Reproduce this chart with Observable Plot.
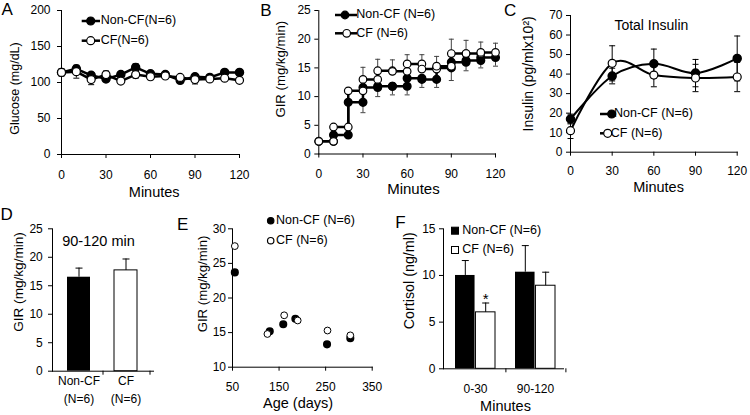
<!DOCTYPE html>
<html>
<head>
<meta charset="utf-8">
<script src="https://cdn.jsdelivr.net/npm/d3@7"></script>
<script src="https://cdn.jsdelivr.net/npm/@observablehq/plot@0.6"></script>
<style>
  html,body{margin:0;padding:0;background:#fff;}
  #fig{position:relative;width:750px;height:415px;overflow:hidden;background:#fff;font-family:"Liberation Sans",Arial,sans-serif;color:#000;}
  .panel{position:absolute;}
  .panel svg{overflow:visible;}
  .letter{position:absolute;font-size:17px;line-height:1;}
  .legtext{position:absolute;font-size:12.5px;line-height:1;white-space:nowrap;}
</style>
</head>
<body>
<div id="fig"></div>
<script>
// ---------------- DATA ----------------
// shared tick labels
const tickMinutes = [0, 30, 60, 90, 120];
const glucoseTicks = [0, 50, 100, 150, 200];
const girTicks = [0, 5, 10, 15, 20, 25];
const insulinTicks = [0, 10, 20, 30, 40, 50, 60, 70];
const ageTicks = [50, 150, 250, 350];
const girAgeTicks = [10, 15, 20, 25, 30];
const cortisolTicks = [0, 5, 10, 15];

// A: glucose (mg/dL)
const minutesA = [0, 10, 20, 30, 40, 50, 60, 70, 80, 90, 100, 110, 120];
const glucoseNonCF    = [114, 119, 110, 105, 111, 121, 112, 111, 103, 108, 107, 114, 114];
const glucoseNonCFErr = [4, 4, 3, 3, 3, 5, 3, 2, 2, 2, 2, 2, 2];
const glucoseCF       = [114, 115, 104, 111, 102, 111, 108, 109, 107, 104, 105, 106, 103];
const glucoseCFErr    = [5, 9, 7, 5, 3, 5, 4, 2, 2, 6, 2, 2, 2];

// B: GIR per 10-min infusion period
const girStart = [0, 10, 20, 30, 40, 50, 60, 70, 80, 90, 100, 110];
const girEnd   = [10, 20, 30, 40, 50, 60, 70, 80, 90, 100, 110, 120];
const girNonCF    = [2.2, 3.3, 9.0, 11.6, 11.8, 11.8, 13.2, 13.0, 15.0, 16.0, 16.3, 16.8];
const girNonCFErr = [0.3, 0.4, 1.8, 1.6, 1.5, 1.5, 1.6, 1.4, 2.2, 1.5, 1.3, 1.5];
const girCF       = [2.2, 4.7, 11.0, 13.0, 14.5, 14.4, 15.7, 14.8, 15.3, 17.5, 17.5, 17.7];
const girCFErr    = [0.3, 0.5, 4.1, 3.5, 1.9, 2.9, 1.6, 2.2, 4.7, 2.3, 2.0, 1.6];

// C: total insulin
const insulinMinutes = [0, 30, 60, 90, 120];
const insulinNonCF    = [17, 39, 45.3, 40.5, 48];
const insulinNonCFErr = [2.5, 4, 7.5, 7, 11.5];
const insulinCF       = [11, 45.5, 39.5, 38, 38.5];
const insulinCFErr    = [4, 9, 6, 7, 7.5];

// D: GIR 90-120 min
const groupsD = ["Non-CF", "CF"];
const groupNotes = ["(N=6)", "(N=6)"];
const girD = [16.5, 17.7];
const girDErr = [1.6, 2.0];

// E: GIR vs age
const ageNonCF = [55, 130, 159, 185, 253, 303];
const girAgeNonCF = [23.7, 15.2, 16.2, 17.0, 13.3, 14.2];
const ageCF = [55, 125, 161, 190, 254, 303];
const girAgeCF = [27.5, 14.8, 17.5, 16.75, 15.3, 14.6];

// F: cortisol
const cortisolPeriods = ["0-30", "90-120"];
const cortisolNonCF = [10.0, 10.35];
const cortisolNonCFErr = [1.6, 2.85];
const cortisolCF = [6.05, 8.9];
const cortisolCFErr = [1.0, 1.45];
const cortisolCFSig = ["*", ""];

// legend / panel texts
const legendLabelsA = ["Non-CF(N=6)", "CF(N=6)"];
const legendLabelsB = ["Non-CF (N=6)", "CF (N=6)"];
const legendLabelsC = ["Non-CF (N=6)", "CF (N=6)"];
const legendLabelsE = ["Non-CF (N=6)", "CF (N=6)"];
const legendLabelsF = ["Non-CF (N=6)", "CF (N=6)"];
const panelLetters = ["A", "B", "C", "D", "E", "F"];

// ---------------- HELPERS ----------------
const FONT = '"Liberation Sans", Arial, Helvetica, sans-serif';
const baseStyle = {fontFamily: FONT, fontSize: "12px", color: "#000", background: "transparent", overflow: "visible"};
const cap = {draw(ctx, size) { const w = Math.sqrt(size / Math.PI); ctx.moveTo(-w, 0); ctx.lineTo(w, 0); }};
const fig = document.getElementById("fig");
function place(svg, left, top) {
  const d = document.createElement("div");
  d.className = "panel"; d.style.left = left + "px"; d.style.top = top + "px";
  d.appendChild(svg); fig.appendChild(d);
}
// mode: "both" | "up" | "down"
function errBars(rows, {x, y, lo, hi, mode = "both", r = 2.5, stroke = "#000", dx = 0}) {
  const y1 = mode === "up" ? y : lo, y2 = mode === "down" ? y : hi;
  const m = [Plot.ruleX(rows, {x, y1, y2, stroke, strokeWidth: 1, dx})];
  if (mode !== "down") m.push(Plot.dot(rows, {x, y: hi, symbol: cap, r, stroke, fill: "none", strokeWidth: 1, dx}));
  if (mode !== "up") m.push(Plot.dot(rows, {x, y: lo, symbol: cap, r, stroke, fill: "none", strokeWidth: 1, dx}));
  return m;
}
function yTitle(t, {dx, dy = 0, size = 13}) {
  return Plot.text([t], {text: d => d, frameAnchor: "left", textAnchor: "middle", rotate: -90, lineAnchor: "top", dx, dy, fontSize: size, fill: "#000"});
}
function xTitle(t, {dx = 0, dy, size = 14.5}) {
  return Plot.text([t], {text: d => d, frameAnchor: "bottom", textAnchor: "middle", lineAnchor: "bottom", dx, dy, fontSize: size, fill: "#000"});
}
const axisLines = () => [Plot.frame({anchor: "left", stroke: "#000"}), Plot.frame({anchor: "bottom", stroke: "#000"})];

// ---------------- PANEL A ----------------
const rowsA = (v, e) => minutesA.map((t, i) => ({t, v: v[i], lo: v[i] - e[i], hi: v[i] + e[i]}));
const aN = rowsA(glucoseNonCF, glucoseNonCFErr), aC = rowsA(glucoseCF, glucoseCFErr);
place(Plot.plot({
  width: 250, height: 205, marginLeft: 61, marginRight: 11, marginTop: 10, marginBottom: 51,
  style: baseStyle, x: {domain: [0, 120]}, y: {domain: [0, 200]},
  marks: [
    Plot.axisX({ticks: tickMinutes, tickSize: 4, tickPadding: 12, label: null}),
    Plot.axisY({ticks: glucoseTicks, tickSize: 4, tickPadding: 7, label: null}),
    ...axisLines(),
    ...errBars(aN, {x: "t", y: "v", lo: "lo", hi: "hi", r: 3}),
    ...errBars(aC, {x: "t", y: "v", lo: "lo", hi: "hi", r: 3}),
    Plot.line(aN, {x: "t", y: "v", stroke: "#000", strokeWidth: 2.5}),
    Plot.dot(aN, {x: "t", y: "v", r: 4, fill: "#000", stroke: "#000"}),
    Plot.line(aC, {x: "t", y: "v", stroke: "#000", strokeWidth: 2.5}),
    Plot.dot(aC, {x: "t", y: "v", r: 4, fill: "#fff", stroke: "#000", strokeWidth: 1.2}),
    yTitle("Glucose (mg/dL)", {dx: -51, dy: 6, size: 12.5}),
    xTitle("Minutes", {dx: 3.7, dy: 42.7})
  ]
}), 0, 0);

// ---------------- PANEL B ----------------
const stepRows = v => girStart.flatMap((t0, i) => [{t: t0, v: v[i]}, {t: girEnd[i], v: v[i]}]);
const errRowsB = (v, e) => girEnd.map((t, i) => ({t, v: v[i], lo: v[i] - e[i], hi: v[i] + e[i]}));
place(Plot.plot({
  width: 250, height: 205, marginLeft: 68.3, marginRight: 5, marginTop: 10, marginBottom: 51.5,
  style: baseStyle, x: {domain: [0, 120]}, y: {domain: [0, 25]},
  marks: [
    Plot.axisX({ticks: tickMinutes, tickSize: 4, tickPadding: 11, label: null}),
    Plot.axisY({ticks: girTicks, tickSize: 4, tickPadding: 4, label: null}),
    ...axisLines(),
    ...errBars(errRowsB(girNonCF, girNonCFErr), {x: "t", y: "v", lo: "lo", hi: "hi", mode: "down", r: 2.5, stroke: "#444"}),
    ...errBars(errRowsB(girCF, girCFErr), {x: "t", y: "v", lo: "lo", hi: "hi", mode: "up", r: 2.5, stroke: "#444"}),
    Plot.line(stepRows(girNonCF), {x: "t", y: "v", stroke: "#000", strokeWidth: 2.5}),
    Plot.dot(stepRows(girNonCF), {x: "t", y: "v", r: 3.8, fill: "#000", stroke: "#000"}),
    Plot.line(stepRows(girCF), {x: "t", y: "v", stroke: "#000", strokeWidth: 2.5}),
    Plot.dot(stepRows(girCF), {x: "t", y: "v", r: 3.8, fill: "#fff", stroke: "#000", strokeWidth: 1.2}),
    yTitle("GIR (mg/kg/min)", {dx: -43.3, dy: -13, size: 13.2}),
    xTitle("Minutes", {dx: 6.3, dy: 39.8, size: 15})
  ]
}), 250, 0);

// ---------------- PANEL C ----------------
const rowsC = (v, e) => insulinMinutes.map((t, i) => ({t, v: v[i], lo: v[i] - e[i], hi: v[i] + e[i]}));
const cN = rowsC(insulinNonCF, insulinNonCFErr), cC = rowsC(insulinCF, insulinCFErr);
place(Plot.plot({
  width: 250, height: 205, marginLeft: 70, marginRight: 13.3, marginTop: 15, marginBottom: 53.3,
  style: baseStyle, x: {domain: [0, 120]}, y: {domain: [0, 70]},
  marks: [
    Plot.axisX({ticks: tickMinutes, tickSize: 4, tickPadding: 10, label: null}),
    Plot.axisY({ticks: insulinTicks, tickSize: 4, tickPadding: 4, label: null}),
    ...axisLines(),
    ...errBars(cN, {x: "t", y: "v", lo: "lo", hi: "hi", r: 3}),
    ...errBars(cC, {x: "t", y: "v", lo: "lo", hi: "hi", r: 3}),
    Plot.line(cN, {x: "t", y: "v", curve: "cardinal", stroke: "#000", strokeWidth: 2}),
    Plot.dot(cN, {x: "t", y: "v", r: 4, fill: "#000", stroke: "#000"}),
    Plot.line(cC, {x: "t", y: "v", curve: "cardinal", stroke: "#000", strokeWidth: 2}),
    Plot.dot(cC, {x: "t", y: "v", r: 4, fill: "#fff", stroke: "#000", strokeWidth: 1.2}),
    Plot.text(["Total Insulin"], {text: d => d, frameAnchor: "top", textAnchor: "middle", lineAnchor: "bottom", dx: -2.5, dy: 14, fontSize: 14, fill: "#000"}),
    yTitle("Insulin (pg/mlx10²)", {dx: -47, dy: -10, size: 14}),
    xTitle("Minutes", {dx: 4.7, dy: 40})
  ]
}), 500, 0);

// ---------------- PANEL D ----------------
const rowsD = groupsD.map((g, i) => ({g, v: girD[i], hi: girD[i] + girDErr[i]}));
place(Plot.plot({
  width: 180, height: 215, marginLeft: 52, marginRight: 27, marginTop: 28.3, marginBottom: 44.3,
  style: baseStyle,
  x: {type: "band", domain: groupsD, paddingInner: 0.51, paddingOuter: 0.3125},
  y: {domain: [0, 25]},
  marks: [
    Plot.axisY({ticks: girTicks, tickSize: 4, tickPadding: 5.7, label: null}),
    Plot.axisX({tickSize: 4, tickFormat: () => "", dx: 24, label: null}),
    Plot.axisX({tickSize: 0, tickPadding: 5.5, label: null}),
    Plot.axisX({tickSize: 0, tickPadding: 23, label: null, tickFormat: g => groupNotes[groupsD.indexOf(g)]}),
    ...axisLines(),
    Plot.barY(rowsD.filter(d => d.g === "Non-CF"), {x: "g", y: "v", fill: "#000"}),
    Plot.barY(rowsD.filter(d => d.g === "CF"), {x: "g", y: "v", fill: "#fff", stroke: "#000", strokeWidth: 1}),
    ...errBars(rowsD, {x: "g", y: "v", hi: "hi", mode: "up", r: 3.5}),
    Plot.text(["90-120 min"], {text: d => d, frameAnchor: "top-left", textAnchor: "start", lineAnchor: "bottom", dx: 9.7, dy: 16.7, fontSize: 14.5, fill: "#000"}),
    yTitle("GIR (mg/kg/min)", {dx: -38.7, dy: -18, size: 13.6})
  ]
}), 0, 200);

// ---------------- PANEL E ----------------
const eN = ageNonCF.map((a, i) => ({a, v: girAgeNonCF[i]}));
const eC = ageCF.map((a, i) => ({a, v: girAgeCF[i]}));
place(Plot.plot({
  width: 210, height: 215, marginLeft: 52, marginRight: 18.3, marginTop: 28.3, marginBottom: 48.3,
  style: baseStyle, x: {domain: [50, 350]}, y: {domain: [10, 30]},
  marks: [
    Plot.axisX({ticks: ageTicks, tickSize: 4, tickPadding: 11, label: null}),
    Plot.axisY({ticks: girAgeTicks, tickSize: 4, tickPadding: 2.5, label: null}),
    ...axisLines(),
    Plot.dot(eN, {x: "a", y: "v", r: 3.3, fill: "#000", stroke: "#000"}),
    Plot.dot(eC, {x: "a", y: "v", r: 3.4, fill: "#fff", stroke: "#000", strokeWidth: 1}),
    yTitle("GIR (mg/kg/min)", {dx: -35.3, dy: -14, size: 13.2}),
    xTitle("Age (days)", {dx: -4.3, dy: 40.3})
  ]
}), 180, 200);

// ---------------- PANEL F ----------------
const rowsF = cortisolPeriods.map((p, i) => ({
  p, n: cortisolNonCF[i], nHi: cortisolNonCF[i] + cortisolNonCFErr[i],
  c: cortisolCF[i], cHi: cortisolCF[i] + cortisolCFErr[i], sig: cortisolCFSig[i]
}));
place(Plot.plot({
  width: 360, height: 215, marginLeft: 53, marginRight: 187, marginTop: 28.3, marginBottom: 46.7,
  style: baseStyle,
  x: {type: "band", domain: cortisolPeriods, paddingInner: 0.328, paddingOuter: 0.15, align: 0.6},
  y: {domain: [0, 15]},
  marks: [
    Plot.axisY({ticks: cortisolTicks, tickSize: 4, tickPadding: 4, label: null}),
    Plot.axisX({tickSize: 4, tickFormat: () => "", dx: 30.4, label: null}),
    Plot.axisX({tickSize: 0, tickPadding: 16, label: null}),
    ...axisLines(),
    Plot.barY(rowsF, {x: "p", y: "n", fill: "#000", insetRight: 20.45}),
    Plot.barY(rowsF, {x: "p", y: "c", fill: "#fff", stroke: "#000", strokeWidth: 1, insetLeft: 20.45}),
    ...errBars(rowsF, {x: "p", y: "n", hi: "nHi", mode: "up", dx: -10.2, r: 3.5}),
    ...errBars(rowsF, {x: "p", y: "c", hi: "cHi", mode: "up", dx: 10.2, r: 3.5}),
    Plot.text(rowsF.filter(d => d.sig), {x: "p", y: "cHi", text: "sig", dx: 10.2, lineAnchor: "bottom", dy: 1, fontSize: 15, fill: "#000"}),
    yTitle("Cortisol (ng/ml)", {dx: -39.7, dy: -18, size: 14.3}),
    xTitle("Minutes", {dx: 2, dy: 41.7})
  ]
}), 390, 200);

// ---------------- LEGENDS & LETTERS ----------------
const legendItems = [
  {x1: 81.7, x2: 100, y: 21, mx: 90.7, kind: "filled", r: 4, tx: 100.7, label: legendLabelsA[0]},
  {x1: 81.7, x2: 100, y: 40.7, mx: 90.7, kind: "open", r: 4, tx: 100.7, label: legendLabelsA[1]},
  {x1: 335, x2: 357, y: 15, mx: 345, kind: "filled", r: 3.8, tx: 356.3, label: legendLabelsB[0]},
  {x1: 335, x2: 357, y: 33.3, mx: 346.7, kind: "open", r: 3.8, tx: 356.3, label: legendLabelsB[1]},
  {x1: 600, x2: 612, y: 114, mx: 611.7, kind: "filled", r: 4, tx: 614, label: legendLabelsC[0]},
  {x1: 600, x2: 608, y: 133.3, mx: 607.7, kind: "open", r: 4, tx: 610.8, label: legendLabelsC[1]},
  {mx: 270.7, y: 220.7, kind: "filled", r: 3.2, tx: 276, label: legendLabelsE[0]},
  {mx: 270.7, y: 240.7, kind: "open", r: 3.2, tx: 276, label: legendLabelsE[1]},
  {mx: 455, y: 230.7, kind: "sqfilled", r: 3.5, tx: 462.3, label: legendLabelsF[0]},
  {mx: 455, y: 250, kind: "sqopen", r: 3.5, tx: 462.3, label: legendLabelsF[1]}
];
const ov = d3.select(fig).append("svg").attr("width", 750).attr("height", 415)
  .style("position", "absolute").style("left", "0px").style("top", "0px").style("overflow", "visible");
legendItems.forEach(s => {
  if (s.x1 != null) ov.append("line").attr("x1", s.x1).attr("x2", s.x2).attr("y1", s.y).attr("y2", s.y)
    .attr("stroke", "#000").attr("stroke-width", 2.5);
  if (s.kind === "filled" || s.kind === "open") {
    ov.append("circle").attr("cx", s.mx).attr("cy", s.y).attr("r", s.r)
      .attr("fill", s.kind === "filled" ? "#000" : "#fff").attr("stroke", "#000").attr("stroke-width", 1.2);
  } else {
    ov.append("rect").attr("x", s.mx - s.r).attr("y", s.y - s.r).attr("width", 2 * s.r).attr("height", 2 * s.r)
      .attr("fill", s.kind === "sqfilled" ? "#000" : "#fff").attr("stroke", "#000").attr("stroke-width", 1);
  }
  const sp = document.createElement("span");
  sp.className = "legtext"; sp.textContent = s.label;
  sp.style.left = s.tx + "px"; sp.style.top = (s.y - 6.6) + "px";
  fig.appendChild(sp);
});
const letterPos = [[1.5, 1], [260.3, 1.5], [504, 1.5], [0.5, 206], [177, 216], [395.3, 214.3]];
panelLetters.forEach((L, i) => {
  const sp = document.createElement("span");
  sp.className = "letter"; sp.textContent = L;
  sp.style.left = letterPos[i][0] + "px"; sp.style.top = letterPos[i][1] + "px";
  fig.appendChild(sp);
});
</script>
</body>
</html>
